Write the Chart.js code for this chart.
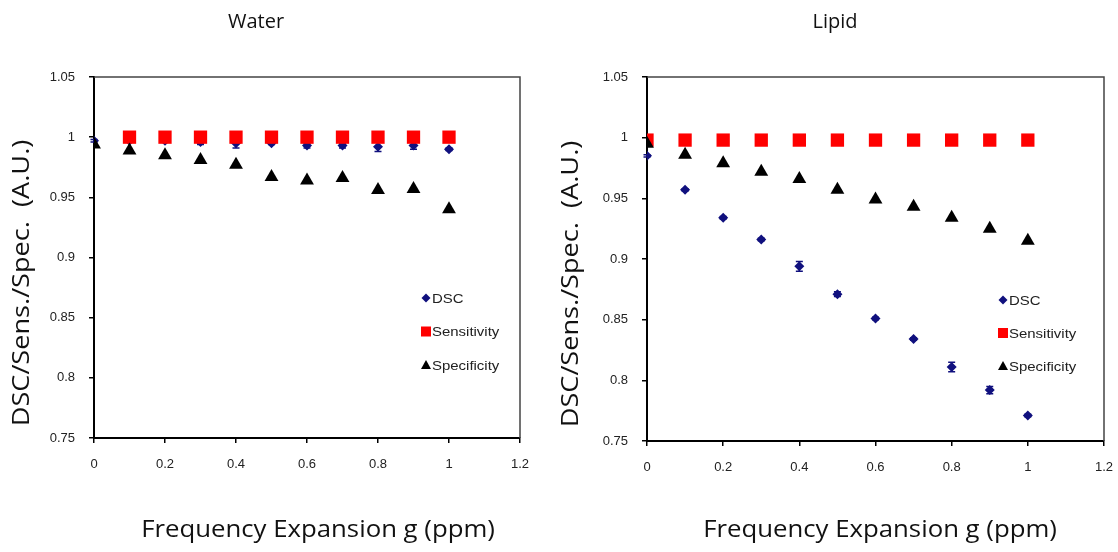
<!DOCTYPE html>
<html>
<head>
<meta charset="utf-8">
<script src="https://cdn.jsdelivr.net/npm/chart.js@4.4.1/dist/chart.umd.min.js"></script>
<style>
  body { margin: 0; background: #fff; }
  #wrap { position: relative; width: 1118px; height: 552px; }
  canvas { position: absolute; top: 0; }
</style>
</head>
<body>
<div id="wrap">
  <canvas id="waterChart" width="559" height="552" style="left:0"></canvas>
  <canvas id="lipidChart" width="559" height="552" style="left:559px"></canvas>
</div>
<script>
// frequency expansion g (ppm)
var gValues = [0, 0.1, 0.2, 0.3, 0.4, 0.5, 0.6, 0.7, 0.8, 0.9, 1.0];
var seriesNames = ['DSC', 'Sensitivity', 'Specificity'];

// water
var waterDsc    = [0.997, 0.997, 0.997, 0.996, 0.995, 0.995, 0.993, 0.993, 0.992, 0.993, 0.990];
var waterDscErr = [0.001, 0.001, 0.001, 0.002, 0.004, 0.001, 0.002, 0.002, 0.004, 0.003, 0.001];
var waterSens   = [null, 1, 1, 1, 1, 1, 1, 1, 1, 1, 1];
var waterSpec   = [0.994, 0.989, 0.985, 0.981, 0.977, 0.967, 0.964, 0.966, 0.956, 0.957, 0.940];

// lipid
var lipidDsc    = [0.985, 0.957, 0.934, 0.916, 0.894, 0.871, 0.851, 0.834, 0.811, 0.792, 0.771];
var lipidDscErr = [0.001, 0.001, 0.001, 0.001, 0.004, 0.002, 0.001, 0.001, 0.004, 0.003, 0.001];
var lipidSens   = [0.998, 0.998, 0.998, 0.998, 0.998, 0.998, 0.998, 0.998, 0.998, 0.998, 0.998];
var lipidSpec   = [0.995, 0.986, 0.979, 0.972, 0.966, 0.957, 0.949, 0.943, 0.934, 0.925, 0.915];

var xMin = 0, xMax = 1.2, xStep = 0.2;
var yMin = 0.75, yMax = 1.05, yStep = 0.05;

var tickFont = { family: 'Liberation Sans, Arial, sans-serif', size: 13 };
var tickColor = '#222';
var textFont = '"Open Sans", sans-serif';

//turn a series into scatter points
function toPoints(ys) {
  var pts = [];
  for (var i = 0; i < gValues.length; i++) {
    if (ys[i] !== null) pts.push({ x: gValues[i], y: ys[i] });
  }
  return pts;
}

//text drawn a little wider than the font
function wideText(ctx, text, x, y, sx, rot) {
  ctx.save();
  ctx.translate(x, y);
  if (rot) ctx.rotate(rot);
  ctx.scale(sx, 1);
  ctx.fillText(text, 0, 0);
  ctx.restore();
}

//small marker for the legend
function drawMarker(ctx, style, x, y, s) {
  ctx.beginPath();
  if (style == 'rectRot') {
    ctx.moveTo(x - s, y); ctx.lineTo(x, y - s); ctx.lineTo(x + s, y); ctx.lineTo(x, y + s);
  } else if (style == 'rect') {
    ctx.rect(x - s, y - s, 2 * s, 2 * s);
  } else {
    ctx.moveTo(x, y - s); ctx.lineTo(x + s, y + s * 0.8); ctx.lineTo(x - s, y + s * 0.8);
  }
  ctx.closePath();
  ctx.fill();
}

//error bars for datasets that carry an errors array
var errorBars = {
  id: 'errorBars',
  beforeDatasetsDraw: function (chart) {
    var ctx = chart.ctx, xs = chart.scales.x, ys = chart.scales.y;
    chart.data.datasets.forEach(function (ds) {
      if (!ds.errors) return;
      ctx.save();
      ctx.strokeStyle = ds.backgroundColor;
      ctx.lineWidth = 1.5;
      ds.data.forEach(function (p, i) {
        var e = ds.errors[i];
        var px = xs.getPixelForValue(p.x);
        var top = ys.getPixelForValue(p.y + e);
        var bot = ys.getPixelForValue(p.y - e);
        ctx.beginPath();
        ctx.moveTo(px, top); ctx.lineTo(px, bot);
        ctx.moveTo(px - 3.5, top); ctx.lineTo(px + 3.5, top);
        ctx.moveTo(px - 3.5, bot); ctx.lineTo(px + 3.5, bot);
        ctx.stroke();
      });
      ctx.restore();
    });
  }
};

//plot frame, titles and the legend inside the plot
var captions = {
  id: 'captions',
  beforeDatasetsDraw: function (chart) {
    var a = chart.chartArea, ctx = chart.ctx;
    ctx.save();
    ctx.strokeStyle = '#444';
    ctx.lineWidth = 1.5;
    ctx.beginPath();
    ctx.moveTo(a.left, a.top); ctx.lineTo(a.right, a.top); ctx.lineTo(a.right, a.bottom);
    ctx.stroke();
    ctx.restore();
  },
  afterDraw: function (chart, args, o) {
    var ctx = chart.ctx;
    ctx.save();
    ctx.fillStyle = '#111';
    ctx.textAlign = 'center';
    ctx.textBaseline = 'middle';
    ctx.font = '20px ' + textFont;
    ctx.fillText(o.title, o.titleX, 22);
    ctx.font = '23px ' + textFont;
    wideText(ctx, 'Frequency Expansion g (ppm)', o.xTitleX, 530, 1.12);
    wideText(ctx, 'DSC/Sens./Spec.  (A.U.)', o.yTitleX, o.yTitleY, 1.18, -Math.PI / 2);

    // legend
    ctx.textAlign = 'left';
    ctx.font = '13px Liberation Sans, Arial, sans-serif';
    chart.data.datasets.forEach(function (ds, i) {
      var y = o.legendY + i * o.legendGap;
      ctx.fillStyle = ds.backgroundColor;
      drawMarker(ctx, ds.pointStyle, o.legendX, y, ds.pointStyle == 'rectRot' ? 4.5 : 5);
      ctx.fillStyle = '#222';
      wideText(ctx, ds.label, o.legendX + 6, y + 1, 1.15);
    });
    ctx.restore();
  }
};

function makeChart(id, dsc, dscErr, sens, spec, lay) {
  return new Chart(document.getElementById(id), {
    type: 'scatter',
    data: {
      datasets: [{
        label: seriesNames[0],
        data: toPoints(dsc),
        errors: dscErr,
        pointStyle: 'rectRot',
        pointRadius: 5,
        pointBorderWidth: 0,
        backgroundColor: '#10107e',
        borderColor: '#10107e',
        order: 3
      }, {
        label: seriesNames[1],
        data: toPoints(sens),
        pointStyle: 'rect',
        pointRadius: 9.4,
        pointBorderWidth: 0,
        backgroundColor: '#ff0000',
        borderColor: '#ff0000',
        order: 2
      }, {
        label: seriesNames[2],
        data: toPoints(spec),
        pointStyle: 'triangle',
        pointRadius: 8,
        pointBorderWidth: 0,
        backgroundColor: '#000000',
        borderColor: '#000000',
        order: 1
      }]
    },
    options: {
      responsive: false,
      animation: false,
      events: [],
      layout: { padding: { left: 0, top: 77, right: lay.padRight, bottom: 0 } },
      scales: {
        x: {
          type: 'linear',
          min: xMin, max: xMax,
          afterFit: function (s) {
            s.height = lay.xHeight;
            s.paddingLeft = 0; s.paddingRight = 0;
          },
          ticks: {
            stepSize: xStep, padding: 14, font: tickFont, color: tickColor,
            maxRotation: 0,
            callback: function (v) { return +v.toFixed(1); }
          },
          grid: { drawOnChartArea: false, tickLength: 5, color: '#000', lineWidth: 1.5 },
          border: { color: '#000', width: 2 }
        },
        y: {
          min: yMin, max: yMax,
          afterFit: function (s) {
            s.width = lay.yWidth;
            s.paddingTop = 0; s.paddingBottom = 0;
          },
          ticks: {
            stepSize: yStep, padding: 14, font: tickFont, color: tickColor,
            callback: function (v) { return +v.toFixed(2); }
          },
          grid: { drawOnChartArea: false, tickLength: 5, color: '#000', lineWidth: 1.5 },
          border: { color: '#000', width: 2 }
        }
      },
      plugins: {
        legend: { display: false },
        tooltip: { enabled: false },
        captions: lay.captions
      }
    },
    plugins: [errorBars, captions]
  });
}

var waterChart = makeChart('waterChart', waterDsc, waterDscErr, waterSens, waterSpec, {
  padRight: 39, yWidth: 94, xHeight: 114,
  captions: { title: 'Water', titleX: 256, xTitleX: 318, yTitleX: 22, yTitleY: 283,
              legendX: 426, legendY: 298, legendGap: 33.5 }
});

var lipidChart = makeChart('lipidChart', lipidDsc, lipidDscErr, lipidSens, lipidSpec, {
  padRight: 14, yWidth: 88, xHeight: 111,
  captions: { title: 'Lipid', titleX: 276, xTitleX: 321, yTitleX: 12, yTitleY: 284,
              legendX: 444, legendY: 300, legendGap: 33 }
});
</script>
</body>
</html>
